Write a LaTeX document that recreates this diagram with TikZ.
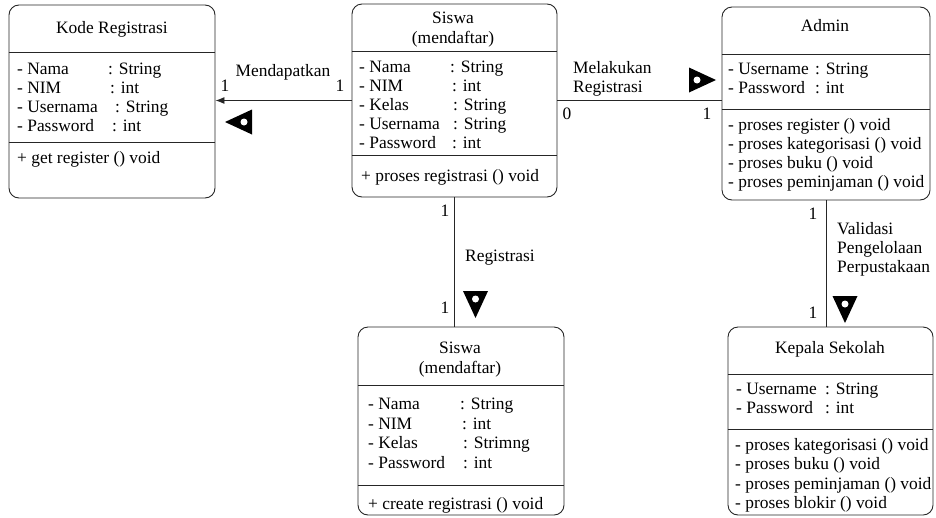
\documentclass[tikz,border=0pt]{standalone}
\usepackage{fontspec}
\setmainfont{Liberation Serif}
\newfontfamily\tnr{Liberation Serif}
\usetikzlibrary{arrows.meta}
\newcommand\myfs{\tnr\fontsize{17.4}{19}\selectfont}
\tikzset{
  cls/.style={draw=black!85, line width=0.9pt, rounded corners=10pt, inner sep=0},
  sepline/.style={draw=black!85, line width=0.9pt},
  conn/.style={draw=black!85, line width=0.9pt},
  txt/.style={inner sep=0, anchor=base west, font=\myfs},
  ctxt/.style={inner sep=0, anchor=base, font=\myfs},
  dirtri/.pic={\fill[black] (-8,-12.5) -- (19,0) -- (-8,12.5) -- cycle;
               \fill[white] (0,0) circle (3.5);}
}
\begin{document}
\begin{tikzpicture}[x=1pt,y=-1pt]
\useasboundingbox (0,0) rectangle (936,517);

% ---------- class boxes ----------
\node[cls, minimum width=206pt, minimum height=193pt] (kode)   at (112,101.5) {};
\node[cls, minimum width=205pt, minimum height=193pt] (siswa1) at (454.5,100.5) {};
\node[cls, minimum width=208pt, minimum height=193pt] (admin)  at (826,103.5) {};
\node[cls, minimum width=206pt, minimum height=188pt] (siswa2) at (461,421) {};
\node[cls, minimum width=205pt, minimum height=188pt] (kepala) at (830.5,421) {};

% separators
\draw[sepline] (kode.west |- 0,52) -- (kode.east |- 0,52);
\draw[sepline] (kode.west |- 0,142) -- (kode.east |- 0,142);
\draw[sepline] (siswa1.west |- 0,51) -- (siswa1.east |- 0,51);
\draw[sepline] (siswa1.west |- 0,155) -- (siswa1.east |- 0,155);
\draw[sepline] (admin.west |- 0,54) -- (admin.east |- 0,54);
\draw[sepline] (admin.west |- 0,109) -- (admin.east |- 0,109);
\draw[sepline] (siswa2.west |- 0,385) -- (siswa2.east |- 0,385);
\draw[sepline] (siswa2.west |- 0,485) -- (siswa2.east |- 0,485);
\draw[sepline] (kepala.west |- 0,374) -- (kepala.east |- 0,374);
\draw[sepline] (kepala.west |- 0,429) -- (kepala.east |- 0,429);

% ---------- Kode Registrasi ----------
\node[ctxt] (k0) at (112,33) {Kode Registrasi};
\node[txt] (k1) at (17,74)  {- Nama};
\node[txt] (k1t) at (108,74) {: String};
\node[txt] (k2) at (17,93)  {- NIM};
\node[txt] (k2t) at (110,93) {: int};
\node[txt] (k3) at (17,112) {- Usernama};
\node[txt] (k3t) at (115,112) {: String};
\node[txt] (k4) at (17,131) {- Password};
\node[txt] (k4t) at (112,131) {: int};
\node[txt] (km) at (17,163) {+ get register () void};

% ---------- Siswa (top) ----------
\node[ctxt] (s0a) at (453,23) {Siswa};
\node[ctxt] (s0b) at (453,43) {(mendaftar)};
\node[txt] (s1) at (359,72)  {- Nama};
\node[txt] (s1t) at (450,72) {: String};
\node[txt] (s2) at (359,91)  {- NIM};
\node[txt] (s2t) at (452,91) {: int};
\node[txt] (s3) at (359,110) {- Kelas};
\node[txt] (s3t) at (453,110) {: String};
\node[txt] (s4) at (359,129) {- Usernama};
\node[txt] (s4t) at (453,129) {: String};
\node[txt] (s5) at (359,148) {- Password};
\node[txt] (s5t) at (452,148) {: int};
\node[txt] (sm) at (361,181) {+ proses registrasi () void};

% ---------- Admin ----------
\node[ctxt] (a0) at (825,31) {Admin};
\node[txt] (a1) at (728,74)  {- Username};
\node[txt] (a1t) at (815,74) {: String};
\node[txt] (a2) at (728,93)  {- Password};
\node[txt] (a2t) at (815,93) {: int};
\node[txt] (am1) at (728,130) {- proses register () void};
\node[txt] (am2) at (728,149) {- proses kategorisasi () void};
\node[txt] (am3) at (728,168) {- proses buku () void};
\node[txt] (am4) at (728,187) {- proses peminjaman () void};

% ---------- Siswa (bottom) ----------
\node[ctxt] (b0a) at (460,353) {Siswa};
\node[ctxt] (b0b) at (460,373) {(mendaftar)};
\node[txt] (b1) at (368,409)  {- Nama};
\node[txt] (b1t) at (460,409) {: String};
\node[txt] (b2) at (368,429)  {- NIM};
\node[txt] (b2t) at (462,429) {: int};
\node[txt] (b3) at (368,448)  {- Kelas};
\node[txt] (b3t) at (463,448) {: Strimng};
\node[txt] (b4) at (368,468)  {- Password};
\node[txt] (b4t) at (463,468) {: int};
\node[txt] (bm) at (368,509) {+ create registrasi () void};

% ---------- Kepala Sekolah ----------
\node[ctxt] (p0) at (830,353) {Kepala Sekolah};
\node[txt] (p1) at (736,394)  {- Username};
\node[txt] (p1t) at (825,394) {: String};
\node[txt] (p2) at (736,413)  {- Password};
\node[txt] (p2t) at (825,413) {: int};
\node[txt] (pm1) at (735,450) {- proses kategorisasi () void};
\node[txt] (pm2) at (735,469) {- proses buku () void};
\node[txt] (pm3) at (735,489) {- proses peminjaman () void};
\node[txt] (pm4) at (735,508) {- proses blokir () void};

% ---------- connectors ----------
\draw[conn, -{Latex[length=9pt,width=7pt]}] (siswa1.west) -- (siswa1.west -| kode.east);
\draw[conn] (siswa1.east) -- (siswa1.east -| admin.west);
\draw[conn] (siswa1.south) -- (siswa1.south |- siswa2.north);
\draw[conn] (admin.south) -- (admin.south |- kepala.north);

% labels: Mendapatkan
\node[ctxt] (l1) at (283,76) {Mendapatkan};
\node[ctxt] (m1a) at (225,91) {1};
\node[ctxt] (m1b) at (340,91) {1};
\pic[rotate=180] at (244,122) {dirtri};

% labels: Melakukan Registrasi
\node[txt] (l2a) at (573,73) {Melakukan};
\node[txt] (l2b) at (573,92) {Registrasi};
\node[ctxt] (m2a) at (567,119) {0};
\node[ctxt] (m2b) at (707,119) {1};
\pic at (697,80) {dirtri};

% labels: Registrasi
\node[txt] (l3) at (465,261) {Registrasi};
\node[ctxt] (m3a) at (445,216) {1};
\node[ctxt] (m3b) at (445,313) {1};
\pic[rotate=-90] at (475.5,299) {dirtri};

% labels: Validasi
\node[txt] (l4a) at (837,234) {Validasi};
\node[txt] (l4b) at (837,253) {Pengelolaan};
\node[txt] (l4c) at (837,272) {Perpustakaan};
\node[ctxt] (m4a) at (813,219) {1};
\node[ctxt] (m4b) at (813,318) {1};
\pic[rotate=-90] at (845,304) {dirtri};

\end{tikzpicture}
\end{document}
